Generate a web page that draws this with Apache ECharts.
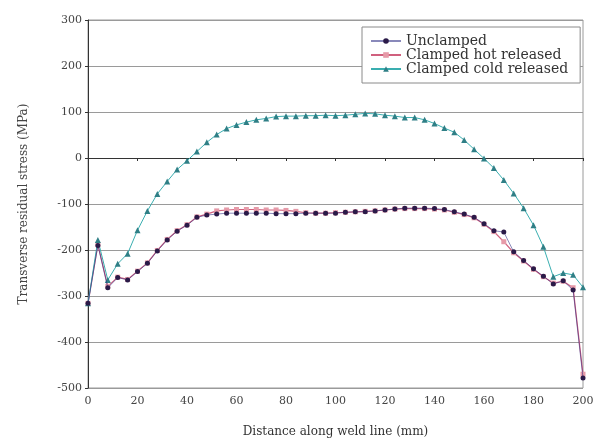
<!DOCTYPE html>
<html>
<head>
<meta charset="utf-8">
<script src="https://cdn.jsdelivr.net/npm/echarts@6/dist/echarts.min.js"></script>
<style>
  html, body { margin: 0; padding: 0; background: #fff; }
  #content { width: 598px; height: 446px; }
</style>
</head>
<body>
<div id="content"></div>
<script>
// distance along weld line (mm), one point every 4 mm
var distance = [];
for (var d = 0; d <= 200; d += 4) distance.push(d);

var unclamped = [-316, -190, -282, -260, -265, -247, -229, -202, -178, -159,
  -146, -129, -124, -122, -120, -120, -120, -120, -120, -121,
  -121, -121, -120, -120, -120, -120, -118, -117, -117, -115,
  -113, -111, -109, -109, -109, -110, -112, -117, -122, -129,
  -143, -158, -161, -204, -223, -241, -257, -274, -267, -287, -478];

var hotReleased = [-316, -188, -279, -259, -264, -246, -228, -201, -177, -158,
  -145, -128, -122, -115, -113, -112, -112, -112, -113, -113,
  -114, -116, -119, -120, -120, -119, -118, -117, -116, -115,
  -113, -111, -110, -110, -110, -111, -113, -118, -123, -130,
  -144, -160, -182, -206, -224, -242, -258, -272, -268, -282, -470];

var coldReleased = [-316, -178, -265, -230, -208, -157, -115, -78, -51, -25,
  -6, 14, 34, 51, 64, 72, 78, 83, 86, 90,
  91, 91, 92, 92, 93, 92, 93, 95, 97, 96,
  93, 91, 88, 88, 83, 75, 65, 56, 39, 19,
  -1, -22, -48, -77, -109, -146, -193, -258, -250, -254, -281];

var seriesNames = ['Unclamped', 'Clamped hot released', 'Clamped cold released'];

function pairs(ys) {
  return distance.map(function (x, i) { return [x, ys[i]]; });
}

var font = 'DejaVu Serif';
var myChart = echarts.init(document.getElementById('content'));
myChart.setOption({
  animation: false,
  grid: {
    left: 88, right: 15, top: 20, bottom: 58,
    show: true, borderColor: '#9a9a9a', borderWidth: 1
  },
  legend: {
    orient: 'vertical',
    left: 362, top: 27,
    padding: [7, 12, 7, 8],
    itemGap: 0,
    itemWidth: 30, itemHeight: 7,
    borderColor: '#8a8a8a', borderWidth: 1,
    backgroundColor: '#fff',
    textStyle: { fontFamily: font, fontSize: 14, lineHeight: 14, color: '#333' },
    data: seriesNames
  },
  xAxis: {
    type: 'value',
    min: 0, max: 200, interval: 20,
    name: 'Distance along weld line (mm)',
    nameLocation: 'middle', nameGap: 38,
    nameTextStyle: { fontFamily: font, fontSize: 12, color: '#333' },
    axisLine: { lineStyle: { color: '#333' } },
    axisTick: { length: 3, lineStyle: { color: '#333' } },
    axisLabel: { fontFamily: font, fontSize: 11, color: '#444', margin: 8 },
    splitLine: { show: false }
  },
  yAxis: {
    type: 'value',
    min: -500, max: 300, interval: 100,
    name: 'Transverse residual stress (MPa)',
    nameLocation: 'middle', nameGap: 58,
    nameTextStyle: { fontFamily: font, fontSize: 12, color: '#444' },
    axisLine: { show: true, lineStyle: { color: '#333' } },
    axisTick: { show: true, length: 3, lineStyle: { color: '#333' } },
    axisLabel: { fontFamily: font, fontSize: 11, color: '#444', margin: 6 },
    splitLine: { lineStyle: { color: '#9a9a9a', width: 1 } }
  },
  series: [{
    name: seriesNames[0],
    type: 'line',
    data: pairs(unclamped),
    symbol: 'circle', symbolSize: 5,
    lineStyle: { color: 'rgba(40,40,130,0.55)', width: 1 },
    itemStyle: { color: '#2a1a48' },
    z: 3
  }, {
    name: seriesNames[1],
    type: 'line',
    data: pairs(hotReleased),
    symbol: 'rect', symbolSize: 5,
    lineStyle: { color: '#d0607e', width: 1.2 },
    itemStyle: { color: '#e69aa8' },
    z: 2
  }, {
    name: seriesNames[2],
    type: 'line',
    data: pairs(coldReleased),
    symbol: 'triangle', symbolSize: 6,
    lineStyle: { color: '#3aaeb0', width: 1 },
    itemStyle: { color: '#2f7f86' },
    z: 2
  }]
});
</script>
</body>
</html>
